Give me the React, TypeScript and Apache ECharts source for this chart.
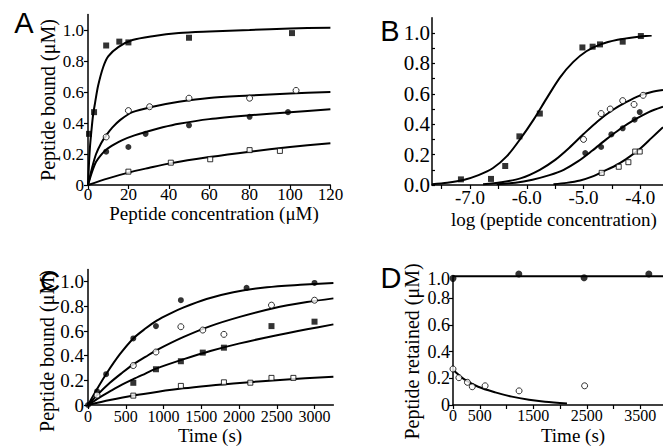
import React, { useEffect, useRef } from 'react';
import * as echarts from 'echarts';

// ---------- Panel A : Peptide bound vs concentration ----------
const aSqFilled = [[0.5, 0.33], [3, 0.47], [9, 0.9], [15.5, 0.925], [20, 0.92], [50, 0.95], [101, 0.98]];
const aCircOpen = [[9, 0.31], [20, 0.48], [30.5, 0.505], [50, 0.56], [80, 0.56], [103, 0.61]];
const aCircFilled = [[9, 0.215], [20, 0.245], [28.5, 0.33], [50, 0.385], [80, 0.44], [99, 0.47]];
const aSqOpen = [[20, 0.086], [41, 0.144], [60.5, 0.166], [80, 0.225], [95, 0.22]];
const aFitSqFilled = [[0, 0], [0.5, 0.14], [1, 0.25], [1.7, 0.35], [2.5, 0.45], [3.5, 0.53], [5, 0.64], [7.5, 0.76], [10, 0.83], [15, 0.89], [22, 0.935], [32, 0.96], [45, 0.98], [60, 0.99], [80, 1.0], [100, 1.01], [120, 1.015]];
const aFitCircOpen = [[0, 0], [2, 0.11], [4, 0.2], [6.5, 0.27], [9, 0.32], [12, 0.37], [16, 0.42], [22, 0.47], [32, 0.505], [45, 0.537], [60, 0.562], [80, 0.577], [100, 0.59], [120, 0.6]];
const aFitCircFilled = [[0, 0], [2, 0.085], [4, 0.15], [6.5, 0.195], [9, 0.228], [13, 0.262], [17, 0.29], [23, 0.32], [29, 0.344], [37, 0.372], [45, 0.395], [60, 0.425], [80, 0.45], [100, 0.47], [120, 0.488]];
const aFitSqOpen = [[0, 0], [10, 0.043], [20, 0.08], [30, 0.11], [40, 0.138], [60, 0.18], [80, 0.215], [100, 0.245], [120, 0.27]];
const aXLabels = [0, 20, 40, 60, 80, 100, 120];
const aYLabels = [0, 0.2, 0.4, 0.6, 0.8, 1.0];

// ---------- Panel B : log concentration ----------
const bSqFilled = [[-7.16, 0.037], [-6.63, 0.04], [-6.38, 0.125], [-6.13, 0.32], [-5.77, 0.47], [-5.02, 0.905], [-4.84, 0.91], [-4.71, 0.925], [-4.31, 0.943], [-3.99, 0.98]];
const bCircOpen = [[-5.0, 0.3], [-4.69, 0.47], [-4.53, 0.5], [-4.31, 0.555], [-4.11, 0.53], [-3.95, 0.59]];
const bCircFilled = [[-4.97, 0.21], [-4.69, 0.25], [-4.51, 0.333], [-4.31, 0.373], [-4.1, 0.43], [-4.01, 0.48]];
const bSqOpen = [[-4.68, 0.08], [-4.38, 0.12], [-4.21, 0.15], [-4.09, 0.22], [-4.01, 0.22]];
const bFitSqFilled = [[-7.67, 0.005], [-7.4, 0.015], [-7.1, 0.035], [-6.85, 0.065], [-6.6, 0.11], [-6.35, 0.19], [-6.12, 0.3], [-5.88, 0.43], [-5.65, 0.57], [-5.41, 0.71], [-5.18, 0.81], [-4.95, 0.88], [-4.7, 0.925], [-4.4, 0.955], [-4.1, 0.972], [-3.8, 0.983]];
const bFitCircOpen = [[-6.77, 0.005], [-6.45, 0.018], [-6.1, 0.045], [-5.77, 0.1], [-5.5, 0.165], [-5.25, 0.245], [-5.0, 0.335], [-4.75, 0.42], [-4.5, 0.49], [-4.25, 0.545], [-4.0, 0.59], [-3.8, 0.612], [-3.6, 0.625]];
const bFitCircFilled = [[-6.53, 0.005], [-6.2, 0.015], [-5.9, 0.035], [-5.6, 0.065], [-5.35, 0.1], [-5.1, 0.155], [-4.85, 0.225], [-4.6, 0.3], [-4.35, 0.37], [-4.1, 0.43], [-3.85, 0.48], [-3.6, 0.515]];
const bFitSqOpen = [[-5.53, 0.005], [-5.3, 0.014], [-5.06, 0.03], [-4.85, 0.055], [-4.65, 0.09], [-4.45, 0.125], [-4.25, 0.17], [-4.0, 0.24], [-3.8, 0.31], [-3.6, 0.38]];
const bXLabels = [-7.0, -6.0, -5.0, -4.0];
const bXTicks = [-7.5, -7.0, -6.5, -6.0, -5.5, -5.0, -4.5, -4.0];
const bYLabels = [0, 0.2, 0.4, 0.6, 0.8, 1.0];
const bYTicks = [0, 0.1, 0.2, 0.3, 0.4, 0.5, 0.6, 0.7, 0.8, 0.9, 1.0];

// ---------- Panel C : association time course ----------
const cCircFilled = [[0, 0], [120, 0.11], [240, 0.25], [600, 0.54], [900, 0.64], [1230, 0.85], [2100, 0.95], [3000, 0.99]];
const cCircOpen = [[120, 0.08], [600, 0.32], [900, 0.43], [1230, 0.635], [1520, 0.608], [1800, 0.573], [2430, 0.81], [3000, 0.85]];
const cSqFilled = [[600, 0.18], [900, 0.29], [1230, 0.355], [1520, 0.425], [1800, 0.465], [2430, 0.64], [3000, 0.676]];
const cSqOpen = [[600, 0.076], [1230, 0.155], [1800, 0.184], [2150, 0.181], [2430, 0.22], [2720, 0.22]];
const cFitCircFilled = [[0, 0], [120, 0.13], [250, 0.26], [420, 0.41], [600, 0.54], [760, 0.62], [910, 0.685], [1080, 0.74], [1260, 0.79], [1570, 0.86], [1925, 0.915], [2370, 0.955], [2810, 0.975], [3250, 0.99]];
const cFitCircOpen = [[0, 0], [120, 0.08], [290, 0.18], [450, 0.26], [600, 0.33], [760, 0.39], [910, 0.445], [1260, 0.55], [1620, 0.64], [2010, 0.715], [2455, 0.785], [2900, 0.835], [3250, 0.865]];
const cFitSqFilled = [[0, 0], [150, 0.06], [290, 0.11], [450, 0.165], [600, 0.21], [760, 0.255], [910, 0.297], [1260, 0.37], [1620, 0.438], [2010, 0.5], [2455, 0.56], [2900, 0.614], [3250, 0.654]];
const cFitSqOpen = [[0, 0], [290, 0.04], [600, 0.077], [930, 0.108], [1260, 0.135], [1600, 0.157], [1925, 0.175], [2590, 0.205], [3250, 0.23]];
const cXLabels = [0, 500, 1000, 1500, 2000, 2500, 3000];
const cYLabels = [0, 0.2, 0.4, 0.6, 0.8, 1.0];

// ---------- Panel D : retention time course ----------
const dCircFilled = [[0, 0.95], [1230, 0.983], [2450, 0.955], [3660, 0.983]];
const dFitFilled = [[0, 0.965], [3925, 0.965]];
const dCircOpen = [[0, 0.27], [110, 0.205], [270, 0.17], [360, 0.137], [600, 0.144], [1235, 0.106], [2460, 0.144]];
const dFitOpen = [[0, 0.265], [220, 0.19], [470, 0.137], [790, 0.095], [1100, 0.063], [1420, 0.04], [1720, 0.025], [2130, 0.012]];
const dXLabels = [0, 500, 1500, 2500, 3500];
const dXTicks = [0, 500, 1000, 1500, 2000, 2500, 3000, 3500];
const dYLabels = [0, 0.2, 0.4, 0.6, 0.8];

const SERIF = 'Liberation Serif';
const SANS = 'Liberation Sans';

const fmt0 = (v: number) => (Math.abs(v) < 1e-9 ? '0' : v.toFixed(1));
const fmt1 = (v: number) => v.toFixed(1);
const fmtInt = (v: number) => String(Math.round(v));

function axis(gridIndex: number, min: number, max: number, labels: number[], ticks: number[], fontSize: number, margin: number, formatter: (v: number) => string, inside = false, tickLen = 4) {
  return {
    type: 'value',
    gridIndex,
    min,
    max,
    axisLine: { show: true, onZero: false, lineStyle: { color: '#000', width: 1.5 } },
    axisTick: { show: true, inside, length: tickLen, customValues: ticks, lineStyle: { color: '#000', width: 1.2 } },
    axisLabel: {
      show: true,
      customValues: labels,
      formatter: (v: number) => (labels.some((l) => Math.abs(l - v) < 1e-6) ? formatter(v) : ''),
      color: '#000',
      fontSize,
      fontFamily: SERIF,
      margin,
    },
    splitLine: { show: false },
  };
}

function scat(data: number[][], symbol: string, filled: boolean, idx: number, size = 6) {
  return {
    type: 'scatter',
    data,
    symbol,
    symbolSize: size,
    xAxisIndex: idx,
    yAxisIndex: idx,
    clip: false,
    z: 3,
    silent: true,
    itemStyle: filled ? { color: '#000' } : { color: '#fff', borderColor: '#000', borderWidth: 1 },
  };
}

function curve(data: number[][], idx: number) {
  return {
    type: 'line',
    data,
    xAxisIndex: idx,
    yAxisIndex: idx,
    smooth: 0.3,
    showSymbol: false,
    symbol: 'none',
    silent: true,
    z: 2,
    lineStyle: { color: '#000', width: 2 },
  };
}

function txt(text: string, x: number, y: number, size: number, rotation = 0, align = 'center', family = SERIF) {
  return {
    type: 'text',
    x,
    y,
    rotation,
    silent: true,
    style: {
      text,
      fontSize: size,
      fontFamily: family,
      fill: '#000',
      textAlign: align,
      textVerticalAlign: 'middle',
      verticalAlign: 'middle',
    },
  };
}

export default function App() {
  const ref = useRef<HTMLDivElement>(null);
  useEffect(() => {
    const chart = echarts.init(ref.current as HTMLDivElement, null, { renderer: 'svg' });
    const option: any = {
      animation: false,
      backgroundColor: '#fff',
      textStyle: { fontFamily: SERIF, color: '#000' },
      grid: [
        { left: 88, top: 14.5, width: 242.4, height: 170.5, outerBoundsMode: 'none', containLabel: false },
        { left: 432, top: 17.8, width: 231, height: 167.2, outerBoundsMode: 'none', containLabel: false },
        { left: 88, top: 269.4, width: 245.4, height: 135.6, outerBoundsMode: 'none', containLabel: false },
        { left: 453, top: 275.7, width: 210, height: 129.3, outerBoundsMode: 'none', containLabel: false },
      ],
      xAxis: [
        axis(0, 0, 120, aXLabels, aXLabels, 17, 1, fmtInt),
        axis(1, -7.67, -3.6, bXLabels, bXTicks, 19, 3, fmt1),
        axis(2, 0, 3250, cXLabels, cXLabels, 16, 3, fmtInt),
        axis(3, 0, 3925, dXLabels, dXTicks, 16, 2, fmtInt),
      ],
      yAxis: [
        axis(0, 0, 1.1, aYLabels, aYLabels, 17, 4, fmt0),
        axis(1, 0, 1.1, bYLabels, bYTicks, 21, 2, fmt1, true, 3),
        axis(2, 0, 1.1, cYLabels, cYLabels, 19, 4, fmt0),
        axis(3, 0, 0.97, dYLabels, dYLabels, 18, 3, fmt0),
      ],
      series: [
        curve(aFitSqFilled, 0), curve(aFitCircOpen, 0), curve(aFitCircFilled, 0), curve(aFitSqOpen, 0),
        scat(aSqFilled, 'rect', true, 0), scat(aCircOpen, 'circle', false, 0), scat(aCircFilled, 'circle', true, 0), scat(aSqOpen, 'rect', false, 0, 5),
        curve(bFitSqFilled, 1), curve(bFitCircOpen, 1), curve(bFitCircFilled, 1), curve(bFitSqOpen, 1),
        scat(bSqFilled, 'rect', true, 1), scat(bCircOpen, 'circle', false, 1), scat(bCircFilled, 'circle', true, 1), scat(bSqOpen, 'rect', false, 1, 5),
        curve(cFitCircFilled, 2), curve(cFitCircOpen, 2), curve(cFitSqFilled, 2), curve(cFitSqOpen, 2),
        scat(cCircFilled, 'circle', true, 2), scat(cCircOpen, 'circle', false, 2), scat(cSqFilled, 'rect', true, 2), scat(cSqOpen, 'rect', false, 2, 5),
        curve(dFitFilled, 3), curve(dFitOpen, 3),
        scat(dCircFilled, 'circle', true, 3, 7), scat(dCircOpen, 'circle', false, 3),
      ],
      graphic: [
        txt('A', 24, 23, 29, 0, 'center', SANS),
        txt('B', 390, 31, 29, 0, 'center', SANS),
        txt('C', 50, 281, 28, 0, 'center', SANS),
        txt('D', 391, 277.5, 29, 0, 'center', SANS),
        txt('Peptide bound (\u03bcM)', 48, 100, 20, Math.PI / 2),
        txt('Peptide concentration (\u03bcM)', 214, 213, 19),
        txt('log (peptide concentration)', 451, 219, 19, 0, 'left'),
        txt('Peptide bound (\u03bcM)', 47, 351, 20, Math.PI / 2),
        txt('Time (s)', 210, 435, 19),
        txt('Peptide retained (\u03bcM)', 411.5, 351.5, 20, Math.PI / 2),
        txt('Time (s)', 573, 435.5, 19),
        txt('1.0', 450, 278.5, 18, 0, 'right'),
      ],
    };
    chart.setOption(option);
    return () => chart.dispose();
  }, []);
  return (
    <div
      ref={ref}
      style={{ position: 'absolute', left: 0, top: 0, width: 663, height: 446, background: '#fff' }}
    />
  );
}
